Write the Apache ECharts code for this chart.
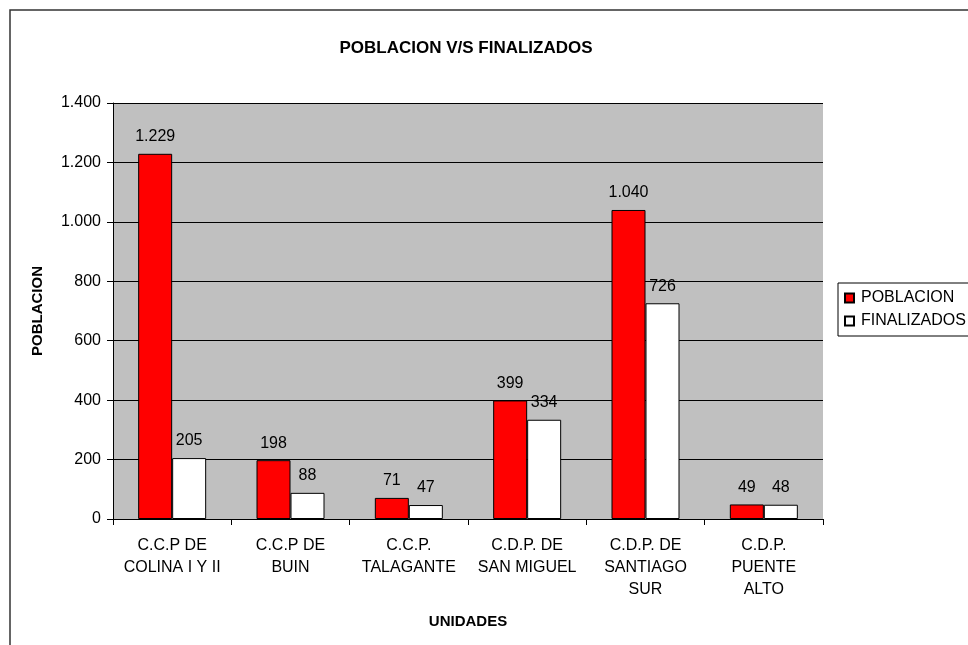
<!DOCTYPE html>
<html><head><meta charset="utf-8">
<script src="https://cdn.jsdelivr.net/npm/echarts@6/dist/echarts.min.js"></script>
<style>html,body{margin:0;padding:0;background:#fff}#c{width:968px;height:645px}</style>
</head><body><div id="c"></div>
<script>
const categories = ["C.C.P DE\nCOLINA I Y II", "C.C.P DE\nBUIN", "C.C.P.\nTALAGANTE", "C.D.P. DE\nSAN MIGUEL", "C.D.P. DE\nSANTIAGO\nSUR", "C.D.P.\nPUENTE\nALTO"];
const poblacion = [1229, 198, 71, 399, 1040, 49];
const finalizados = [205, 88, 47, 334, 726, 48];
const yTicks = [0, 200, 400, 600, 800, 1000, 1200, 1400];

const fmt = v => String(v).replace(/\B(?=(\d{3})+(?!\d))/g, '.');
const F = '"Liberation Sans", Arial, sans-serif';
const chart = echarts.init(document.getElementById('c'), null, {renderer: 'canvas'});
chart.setOption({
  animation: false,
  backgroundColor: '#fff',
  textStyle: {fontFamily: F},
  graphic: [{type: 'rect', shape: {x: 10, y: 10, width: 1000, height: 700}, style: {fill: 'none', stroke: '#333', lineWidth: 1.5}, z: 100}],
  title: {text: 'POBLACION V/S FINALIZADOS', left: 461, top: 35, textAlign: 'center',
    textStyle: {fontFamily: F, fontSize: 17, fontWeight: 'bold', color: '#000'}},
  legend: {orient: 'vertical', left: 838, top: 283, itemWidth: 9, itemHeight: 9, itemGap: 7,
    padding: [7, 20, 7, 6], borderColor: '#000', borderWidth: 1, backgroundColor: '#fff',
    textStyle: {fontFamily: F, fontSize: 16, color: '#000', padding: [0, 0, 0, 2]},
    data: [{name: 'POBLACION', icon: 'rect'}, {name: 'FINALIZADOS', icon: 'rect'}]},
  grid: {left: 113, top: 103, width: 710, height: 416, backgroundColor: '#c0c0c0', show: true, borderWidth: 0},
  xAxis: {type: 'category', data: categories, name: 'UNIDADES', nameLocation: 'middle', nameGap: 95,
    nameTextStyle: {fontFamily: F, fontSize: 15, fontWeight: 'bold', color: '#000'},
    axisLine: {lineStyle: {color: '#000', width: 1}},
    axisTick: {show: true, length: 6, lineStyle: {color: '#000'}},
    axisLabel: {fontFamily: F, fontSize: 16, color: '#000', lineHeight: 22, margin: 16, interval: 0}},
  yAxis: {type: 'value', min: 0, max: 1400, interval: 200, name: 'POBLACION', nameLocation: 'middle', nameGap: 68,
    nameTextStyle: {fontFamily: F, fontSize: 15, fontWeight: 'bold', color: '#000'},
    axisLine: {show: true, lineStyle: {color: '#000'}},
    axisTick: {show: true, length: 6, lineStyle: {color: '#000'}},
    splitLine: {lineStyle: {color: '#000', width: 1}},
    axisLabel: {fontFamily: F, fontSize: 16, color: '#000', margin: 12, formatter: v => yTicks.includes(v) ? fmt(v) : ''}},
  series: [
    {name: 'POBLACION', type: 'bar', data: poblacion, barWidth: 34, barGap: '0%',
      itemStyle: {color: '#ff0000', borderColor: '#000', borderWidth: 1},
      label: {show: true, position: 'top', distance: 9, fontFamily: F, fontSize: 16, color: '#000', formatter: p => fmt(p.value)}},
    {name: 'FINALIZADOS', type: 'bar', data: finalizados, barWidth: 34, barGap: '0%',
      itemStyle: {color: '#ffffff', borderColor: '#000', borderWidth: 1},
      label: {show: true, position: 'top', distance: 9, fontFamily: F, fontSize: 16, color: '#000', formatter: p => fmt(p.value)}}
  ]
});
</script></body></html>
